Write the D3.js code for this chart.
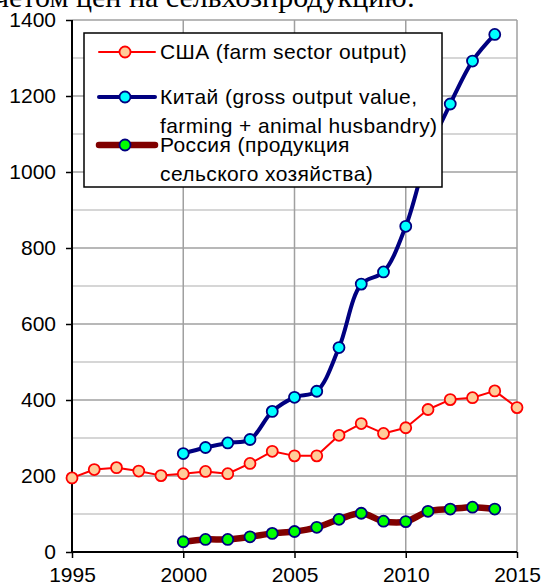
<!DOCTYPE html>
<html>
<head>
<meta charset="utf-8">
<script src="https://cdn.jsdelivr.net/npm/d3@7"></script>
<style>
  body { margin: 0; background: #fff; }
  svg { display: block; }
</style>
</head>
<body>
<svg width="544" height="588"></svg>
<script>
const years = d3.range(1995, 2016);

const usaYears = years;
const usaValues = [195, 217, 222, 213, 201, 206, 212, 206, 233, 265, 253, 253, 307, 338, 312, 327, 375, 401, 406, 424, 380];

const chinaYears = d3.range(2000, 2015);
const chinaValues = [259, 275, 287, 296, 370, 407, 423, 538, 705, 737, 857, 1050, 1179, 1292, 1362];

const russiaYears = d3.range(2000, 2015);
const russiaValues = [27, 33, 33, 40, 49, 54, 65, 86, 102, 81, 80, 107, 113, 118, 113];

const yTicks = [0, 200, 400, 600, 800, 1000, 1200, 1400];
const yMinor = [100, 300, 500, 700, 900, 1100, 1300];
const xTicks = [1995, 2000, 2005, 2010, 2015];

const titleText = "с учетом цен на сельхозпродукцию:";

const series = [
  { name: ["США (farm sector output)"], years: usaYears, values: usaValues,
    line: "#ff0000", lineWidth: 2, fill: "#ffcc99", stroke: "#ff0000", curve: d3.curveLinear },
  { name: ["Китай (gross output value,", "farming + animal husbandry)"], years: chinaYears, values: chinaValues,
    line: "#000080", lineWidth: 4, fill: "#00ffff", stroke: "#000080", curve: d3.curveCatmullRom.alpha(0.5) },
  { name: ["Россия (продукция", "сельского хозяйства)"], years: russiaYears, values: russiaValues,
    line: "#800000", lineWidth: 6.5, fill: "#00ff00", stroke: "#000080", curve: d3.curveCatmullRom.alpha(0.5) }
];

const svg = d3.select("svg");
const font = "'Liberation Sans', Arial, sans-serif";

const x = d3.scaleLinear().domain([1995, 2015]).range([72, 517]);
const y = d3.scaleLinear().domain([0, 1400]).range([552, 20]);

// text line above the chart, cut by the top edge as in the source
svg.append("text")
  .attr("x", 415).attr("y", 7)
  .attr("text-anchor", "end")
  .style("font-family", "'Liberation Serif', 'Times New Roman', serif")
  .style("font-size", "30px")
  .text(titleText);

// grid
const grid = svg.append("g");
grid.selectAll("line.minor").data(yMinor).enter().append("line")
  .attr("x1", x(1995)).attr("x2", x(2015))
  .attr("y1", d => y(d)).attr("y2", d => y(d))
  .attr("stroke", "#c8c8c8").attr("stroke-width", 1.5);
grid.selectAll("line.major").data(yTicks.slice(1)).enter().append("line")
  .attr("x1", x(1995)).attr("x2", x(2015))
  .attr("y1", d => y(d)).attr("y2", d => y(d))
  .attr("stroke", "#a0a0a0").attr("stroke-width", 1.5);
grid.selectAll("line.vert").data(xTicks.slice(1)).enter().append("line")
  .attr("x1", d => x(d)).attr("x2", d => x(d))
  .attr("y1", y(0)).attr("y2", y(1400))
  .attr("stroke", "#a0a0a0").attr("stroke-width", 1.5);

// axes
const yAxis = svg.append("g")
  .attr("transform", `translate(${x(1995)},0)`)
  .call(d3.axisLeft(y).tickValues(yTicks).tickSize(6).tickPadding(10).tickFormat(d3.format("d")));
const xAxis = svg.append("g")
  .attr("transform", `translate(0,${y(0)})`)
  .call(d3.axisBottom(x).tickValues(xTicks).tickSize(6).tickPadding(6).tickFormat(d3.format("d")));
[yAxis, xAxis].forEach(a => {
  a.select(".domain").attr("stroke", "#000").attr("stroke-width", 2);
  a.selectAll(".tick line").attr("stroke", "#000").attr("stroke-width", 1.5);
  a.selectAll("text").attr("fill", "#000").style("font-family", font).style("font-size", "21px");
});
xAxis.select(".domain").attr("d", `M${x(1995)},0H${x(2015)}`);
xAxis.selectAll(".tick text").attr("dy", "0.85em");
yAxis.select(".domain").attr("d", `M0,${y(0)}V${y(1400)}`);

// series
series.slice().reverse().forEach(s => {
  const pts = s.years.map((yr, i) => [yr, s.values[i]]);
  const line = d3.line().x(d => x(d[0])).y(d => y(d[1])).curve(s.curve);
  const g = svg.append("g");
  g.append("path").datum(pts)
    .attr("d", line)
    .attr("fill", "none")
    .attr("stroke", s.line)
    .attr("stroke-width", s.lineWidth)
    .attr("stroke-linejoin", "round")
    .attr("stroke-linecap", "round");
  g.selectAll("circle").data(pts).enter().append("circle")
    .attr("cx", d => x(d[0])).attr("cy", d => y(d[1]))
    .attr("r", 5.5)
    .attr("fill", s.fill)
    .attr("stroke", s.stroke)
    .attr("stroke-width", 1.8);
});

// legend
const legend = svg.append("g");
legend.append("rect")
  .attr("x", 84).attr("y", 33).attr("width", 358).attr("height", 154)
  .attr("fill", "#fff").attr("stroke", "#000").attr("stroke-width", 1.5);

const legendRows = [52, 97, 145];
const legendLineGap = 29;
series.forEach((s, i) => {
  const ly = legendRows[i];
  legend.append("line")
    .attr("x1", 99).attr("x2", 155).attr("y1", ly).attr("y2", ly)
    .attr("stroke", s.line).attr("stroke-width", s.lineWidth)
    .attr("stroke-linecap", "round");
  legend.append("circle")
    .attr("cx", 125).attr("cy", ly).attr("r", 5.5)
    .attr("fill", s.fill).attr("stroke", s.stroke).attr("stroke-width", 1.8);
  s.name.forEach((t, j) => {
    legend.append("text")
      .attr("x", 160).attr("y", ly + j * legendLineGap)
      .attr("dy", "0.35em")
      .style("font-family", font).style("font-size", "21px")
      .style("letter-spacing", "0.4px")
      .text(t);
  });
});
</script>
</body>
</html>
